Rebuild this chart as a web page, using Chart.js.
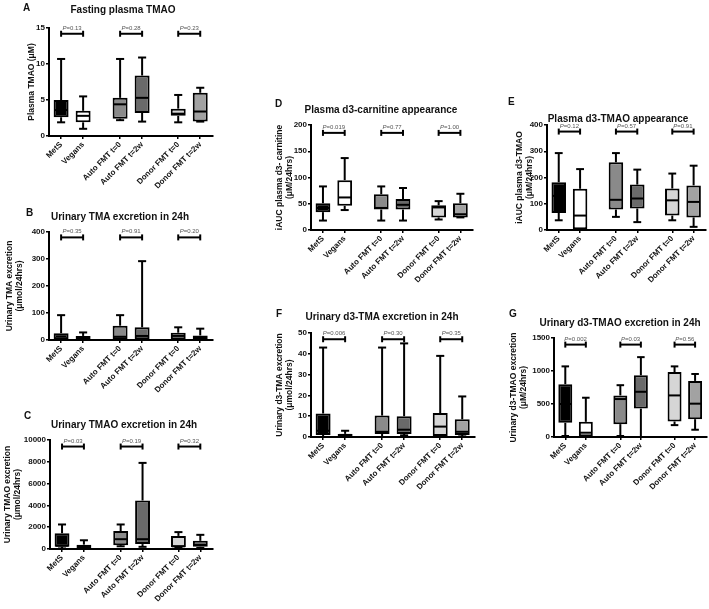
<!DOCTYPE html>
<html>
<head>
<meta charset="utf-8">
<script src="https://cdn.jsdelivr.net/npm/chart.js@4.4.1/dist/chart.umd.min.js"></script>
<style>
  body { margin: 0; background: #fff; width: 709px; height: 609px; position: relative; overflow: hidden;
         font-family: "Liberation Sans", Arial, sans-serif; color: #111; }
  .panel { position: absolute; }
  .letter { position: absolute; font-weight: bold; font-size: 10px; line-height: 10px; }
  .title { position: absolute; font-weight: bold; font-size: 10px; line-height: 12px; white-space: nowrap;
           transform: translateX(-50%); }
</style>
</head>
<body>
<script>
const groups = ['MetS', 'Vegans', 'Auto FMT t=0', 'Auto FMT t=2w', 'Donor FMT t=0', 'Donor FMT t=2w'];

// each entry: [min, q1, median, q3, max]
const plasmaTmao = [[1.9, 2.6, 3.6, 5.0, 10.7], [1.0, 1.9, 2.8, 3.5, 5.5], [2.2, 2.4, 4.4, 5.3, 10.7],
                    [2.0, 3.2, 5.3, 8.4, 10.9], [1.9, 2.8, 3.1, 3.8, 5.7], [2.0, 2.0, 3.4, 6.0, 6.7]];
const urinaryTma = [[0, 0, 5, 25, 92], [0, 2, 8, 15, 28], [0, 3, 12, 53, 92],
                    [0, 3, 15, 47, 292], [0, 3, 15, 27, 47], [0, 2, 10, 17, 42]];
const urinaryTmao = [[50, 200, 300, 1450, 2250], [50, 100, 250, 400, 800], [250, 350, 900, 1650, 2250],
                     [200, 450, 900, 4450, 7900], [100, 150, 250, 1200, 1550], [100, 200, 400, 750, 1300]];
const d3Carnitine = [[18, 34, 42, 51, 83], [38, 46, 62, 95, 137], [18, 39, 42, 68, 83],
                     [18, 39, 48, 59, 80], [20, 24, 43, 47, 55], [24, 24, 30, 51, 69]];
const d3TmaoPlasma = [[37, 65, 130, 182, 293], [0, 0, 55, 157, 232], [50, 78, 115, 258, 293],
                      [30, 82, 120, 173, 230], [37, 55, 113, 158, 215], [12, 48, 107, 170, 245]];
const d3TmaUrine = [[0, 1, 3, 11.3, 43], [0, 0.5, 1, 1.5, 3], [0, 1.5, 2.5, 10.3, 43],
                    [0.8, 1.5, 3.5, 10, 45], [0.3, 0.5, 5, 11.5, 39], [0.3, 1, 2.5, 8.5, 19.5]];
const d3TmaoUrine = [[15, 215, 500, 800, 1070], [0, 0, 65, 230, 595], [15, 195, 575, 630, 785],
                     [0, 430, 685, 935, 1210], [180, 235, 630, 985, 1070], [110, 270, 505, 850, 955]];

const pA = ['0.13', '0.28', '0.23'];
const pB = ['0.35', '0.91', '0.20'];
const pC = ['0.03', '0.19', '0.32'];
const pD = ['0.019', '0.77', '1.00'];
const pE = ['0.12', '0.57', '0.91'];
const pF = ['0.006', '0.30', '0.35'];
const pG = ['0.002', '0.03', '0.56'];

const fills = ['#000000', '#ffffff', '#8a8a8a', '#6a6a6a', '#d6d6d6', '#a2a2a2'];
// x slots: pairs sit closer together than the groups
const slots = [0, 1, 2.68, 3.68, 5.32, 6.32];

const panels = [
  { letter: 'A', title: 'Fasting plasma TMAO', yTitle: 'Plasma TMAO (μM)', stats: plasmaTmao, p: pA,
    max: 15, step: 5, bracket: 14.2,
    box: [0, 0, 222, 195], yw: 49, t: 28, xh: 59, r: 9, tp: 27, lp: [23, 3], tc: [123, 10] },
  { letter: 'B', title: 'Urinary TMA excretion in 24h', yTitle: ['Urinary TMA excretion', '(μmol/24hrs)'],
    stats: urinaryTma, p: pB, max: 400, step: 100, bracket: 380,
    box: [0, 195, 222, 200], yw: 49, t: 37, xh: 55, r: 9, tp: 5, lp: [26, 208], tc: [120, 217] },
  { letter: 'C', title: 'Urinary TMAO excretion in 24h', yTitle: ['Urinary TMAO excretion', '(μmol/24hrs)'],
    stats: urinaryTmao, p: pC, max: 10000, step: 2000, bracket: 9400,
    box: [0, 395, 222, 214], yw: 50, t: 45, xh: 60, r: 9, tp: 3, lp: [24, 411], tc: [124, 425] },
  { letter: 'D', title: 'Plasma d3-carnitine appearance', yTitle: ['iAUC plasma d3- carnitine', '(μM/24hrs)'],
    stats: d3Carnitine, p: pD, max: 200, step: 50, bracket: 185,
    box: [240, 90, 240, 210], yw: 71, t: 35, xh: 70, r: 7, tp: 35, lp: [275, 99], tc: [381, 110] },
  { letter: 'E', title: 'Plasma d3-TMAO appearance', yTitle: ['iAUC plasma d3-TMAO', '(μM/24hrs)'],
    stats: d3TmaoPlasma, p: pE, max: 400, step: 100, bracket: 375,
    box: [470, 90, 239, 210], yw: 77, t: 35, xh: 70, r: 3, tp: 45, lp: [508, 97], tc: [618, 119] },
  { letter: 'F', title: 'Urinary d3-TMA excretion in 24h', yTitle: ['Urinary d3-TMA excretion', '(μmol/24hrs)'],
    stats: d3TmaUrine, p: pF, max: 50, step: 10, bracket: 47,
    box: [240, 300, 240, 200], yw: 71, t: 33, xh: 63, r: 5, tp: 35, lp: [276, 309], tc: [382, 317] },
  { letter: 'G', title: 'Urinary d3-TMAO excretion in 24h', yTitle: ['Urinary d3-TMAO excretion', '(μM/24hrs)'],
    stats: d3TmaoUrine, p: pG, max: 1500, step: 500, bracket: 1400,
    box: [470, 300, 239, 200], yw: 84, t: 38, xh: 63, r: 2, tp: 39, lp: [509, 309], tc: [620, 323] },
];

const FONT = '"Liberation Sans", Arial, sans-serif';

// whiskers, medians and the P-value brackets, placed with the chart's scales
function boxPlugin(panel) {
  return {
    id: 'boxes' + panel.letter,
    afterDatasetsDraw(chart) {
      const ctx = chart.ctx;
      const ys = chart.scales.y;
      const bars = chart.getDatasetMeta(0).data;
      const py = v => ys.getPixelForValue(v);
      const line = (x1, y1, x2, y2) => { ctx.beginPath(); ctx.moveTo(x1, y1); ctx.lineTo(x2, y2); ctx.stroke(); };
      ctx.save();
      ctx.strokeStyle = '#000';
      ctx.lineWidth = 2;
      bars.forEach((bar, i) => {
        const s = panel.stats[i];
        const x = bar.x, half = bar.width / 2, cap = bar.width * 0.27;
        line(x, py(s[3]), x, py(s[4]));
        line(x - cap, py(s[4]), x + cap, py(s[4]));
        line(x, py(s[1]), x, py(s[0]));
        line(x - cap, py(s[0]), x + cap, py(s[0]));
        line(x - half + 1, py(s[2]), x + half - 1, py(s[2]));
      });
      panel.p.forEach((p, k) => {
        const x1 = bars[2 * k].x, x2 = bars[2 * k + 1].x, y = py(panel.bracket);
        line(x1, y, x2, y);
        line(x1, y - 3, x1, y + 3);
        line(x2, y - 3, x2, y + 3);
        ctx.fillStyle = '#555';
        ctx.textBaseline = 'alphabetic';
        ctx.font = 'italic 6px ' + FONT;
        const wP = ctx.measureText('P').width;
        ctx.font = '6px ' + FONT;
        const wV = ctx.measureText('=' + p).width;
        const x0 = (x1 + x2) / 2 - (wP + wV) / 2;
        ctx.font = 'italic 6px ' + FONT;
        ctx.fillText('P', x0, y - 4);
        ctx.font = '6px ' + FONT;
        ctx.fillText('=' + p, x0 + wP, y - 4);
      });
      ctx.restore();
    }
  };
}

panels.forEach(panel => {
  const [left, top, w, h] = panel.box;
  const wrap = document.createElement('div');
  wrap.className = 'panel';
  wrap.style.cssText = `left:${left}px;top:${top}px;width:${w}px;height:${h}px;`;
  const canvas = document.createElement('canvas');
  canvas.width = w;
  canvas.height = h;
  wrap.appendChild(canvas);
  document.body.appendChild(wrap);

  const letter = document.createElement('div');
  letter.className = 'letter';
  letter.textContent = panel.letter;
  letter.style.left = panel.lp[0] + 'px';
  letter.style.top = panel.lp[1] + 'px';
  document.body.appendChild(letter);

  const title = document.createElement('div');
  title.className = 'title';
  title.textContent = panel.title;
  title.style.left = panel.tc[0] + 'px';
  title.style.top = (panel.tc[1] - 6) + 'px';
  document.body.appendChild(title);

  new Chart(canvas, {
    type: 'bar',
    data: {
      datasets: [{
        data: panel.stats.map((s, i) => ({ x: slots[i], y: [s[1], s[3]] })),
        backgroundColor: fills,
        borderColor: '#000',
        borderWidth: 2,
        borderSkipped: false,
        barPercentage: 0.85,
        categoryPercentage: 0.8,
      }]
    },
    options: {
      responsive: false,
      animation: false,
      layout: { padding: { top: panel.t, right: panel.r, left: 0, bottom: 0 } },
      plugins: { legend: { display: false }, tooltip: { enabled: false } },
      scales: {
        x: {
          type: 'linear',
          offset: false,
          min: -0.55,
          max: 6.9,
          afterBuildTicks: scale => { scale.ticks = slots.map(v => ({ value: v })); },
          afterFit: scale => { scale.height = panel.xh; },
          ticks: {
            callback: (v, i) => groups[i],
            autoSkip: false,
            minRotation: 45,
            maxRotation: 45,
            padding: 1,
            color: '#111',
            font: { family: FONT, size: 8, weight: 'bold' },
          },
          grid: { drawOnChartArea: false, color: '#000', lineWidth: 1.5, tickLength: 3, offset: false },
          border: { color: '#000', width: 2 },
        },
        y: {
          min: 0,
          max: panel.max,
          afterFit: scale => { scale.width = panel.yw; },
          ticks: {
            stepSize: panel.step,
            padding: 1,
            color: '#111',
            callback: v => String(v),
            font: { family: FONT, size: 8, weight: 'bold' },
          },
          grid: { drawOnChartArea: false, color: '#000', lineWidth: 1.5, tickLength: 3 },
          border: { color: '#000', width: 2 },
          title: {
            display: true,
            text: panel.yTitle,
            color: '#111',
            padding: { top: panel.tp, bottom: 0 },
            font: { family: FONT, size: 8.5, weight: 'bold', lineHeight: 1.15 },
          },
        }
      }
    },
    plugins: [boxPlugin(panel)]
  });
});
</script>
</body>
</html>
